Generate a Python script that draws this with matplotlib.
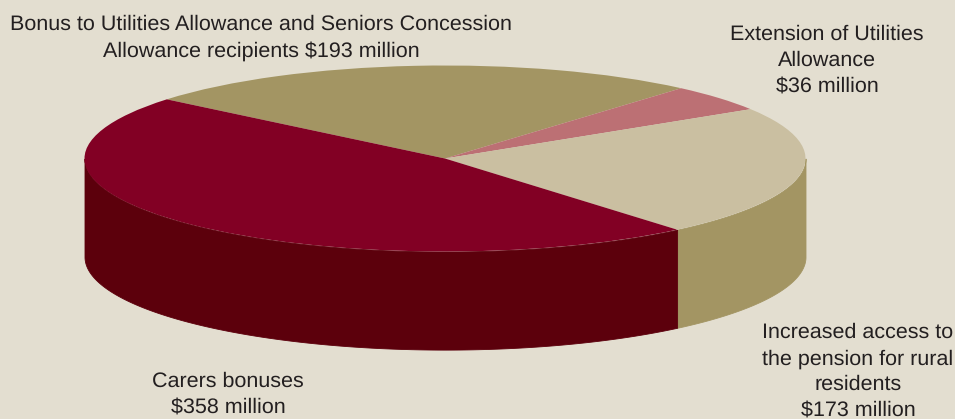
import numpy as np
import matplotlib
matplotlib.use("Agg")
import matplotlib.pyplot as plt

labels = [
    "Bonus to Utilities Allowance and Seniors Concession\nAllowance recipients $193 million",
    "Extension of Utilities\nAllowance\n$36 million",
    "Increased access to\nthe pension for rural\nresidents\n$173 million",
    "Carers bonuses\n$358 million",
]
values = [193, 36, 173, 358]
top_colors = ["#A39563", "#BC7074", "#CABFA1", "#820024"]
side_colors = ["#867A50", "#96585C", "#A39563", "#5C000C"]
background = "#E3DED0"
start_angle = 140.5
wall_depth = 1.055

plt.rcParams["font.family"] = ["Liberation Sans"]
plt.rcParams["text.hinting"] = "no_hinting"
plt.rcParams["text.hinting_factor"] = 8

W, H = 955, 419
fig = plt.figure(figsize=(W / 100, H / 100), dpi=100, facecolor=background)
ax = fig.add_axes([0, 0, 1, 1])
ax.set_facecolor(background)

# Wall under the disc: each slice contributes the part of its arc on the front half.
sweep = np.array(values) / sum(values) * 360.0
edges = start_angle - np.concatenate([[0], np.cumsum(sweep)])
for hi, lo, color in zip(edges[:-1], edges[1:], side_colors):
    a = np.radians(np.linspace(lo, hi, 400))
    a = a[np.sin(a) <= 0]
    if a.size < 2:
        continue
    x = np.cos(a)
    y = np.sin(a)
    ax.fill_between(x, y, y - wall_depth, color=color, lw=0.6, zorder=1)

# Top face of the disc; the axes limits squash the circle into an ellipse.
ax.pie(values, colors=top_colors, startangle=start_angle, counterclock=False,
       radius=1, wedgeprops={"linewidth": 0, "zorder": 2})
ax.set_aspect("auto")

rx, ry, cx, cy = 360.5, 93.0, 445.0, 158.5
ax.set_xlim(-cx / rx, (W - cx) / rx)
ax.set_ylim(-(H - cy) / ry, cy / ry)
ax.axis("off")


def place(px, py, text):
    ax.text((px - cx) / rx, (cy - py) / ry, text, ha="center", va="top",
            fontsize=15.45, color="#231F20", family="Liberation Sans",
            linespacing=1.42, zorder=5, clip_on=False)


place(261, 15, labels[0])
place(827, 25, labels[1])
place(858, 323, labels[2])
place(228, 372, labels[3])

fig.savefig("out.png", dpi=100, facecolor=background)
